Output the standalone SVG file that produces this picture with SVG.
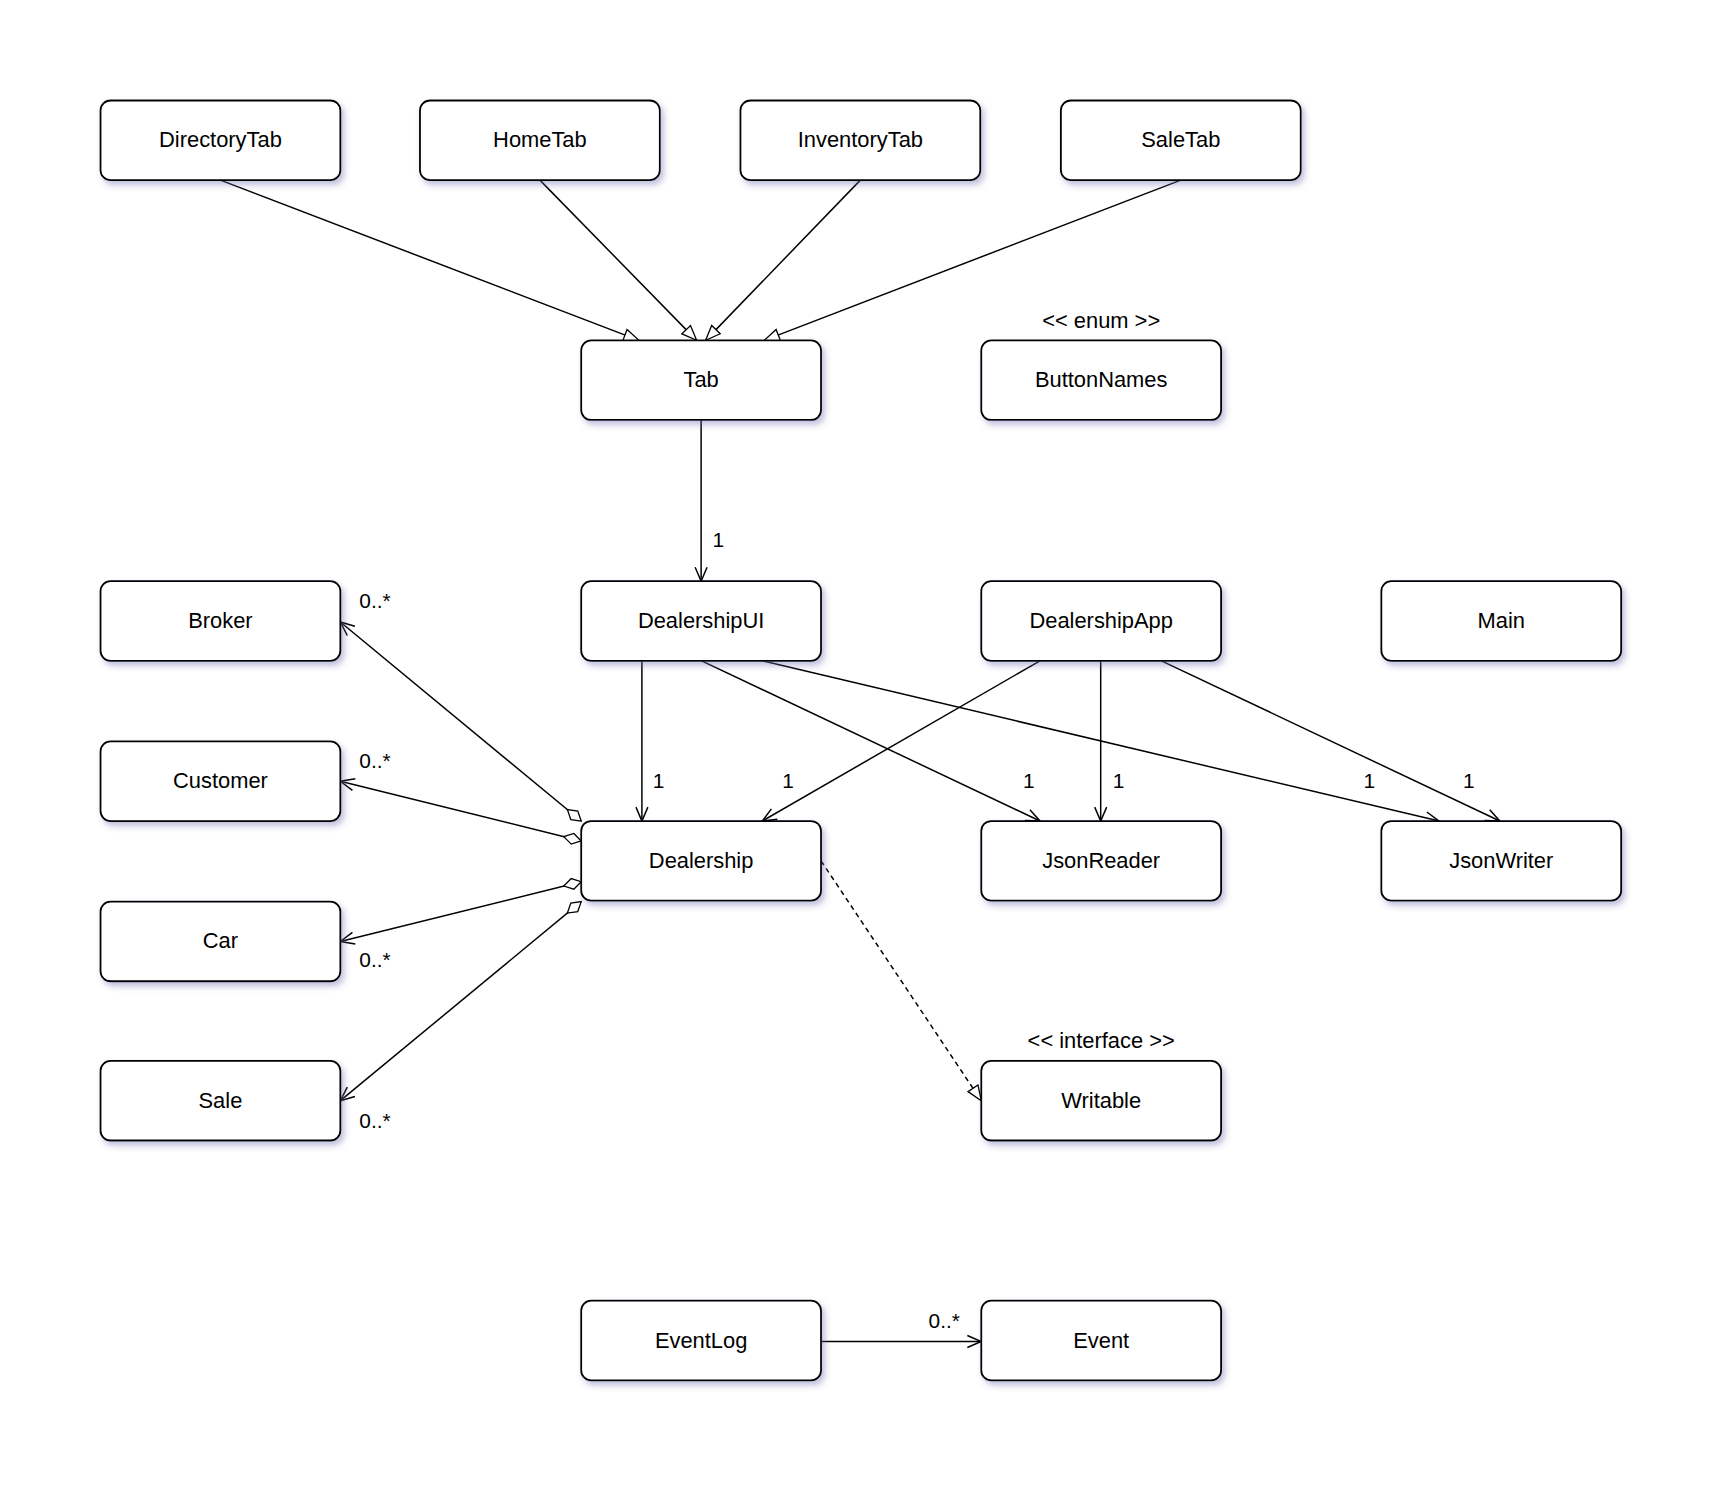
<svg xmlns="http://www.w3.org/2000/svg" width="1734" height="1494" viewBox="0 0 1734 1494">
<style>
.n rect{fill:#fff;stroke:#000;stroke-width:1.8;filter:url(#sh)}
text{font-family:"Liberation Sans",Arial,sans-serif;font-size:22px;fill:#000;text-anchor:middle}
.e line{stroke:#000;stroke-width:1.5;fill:none}
.l{font-size:21px;text-anchor:start}
</style>
<defs>
<filter id="sh" x="-20%" y="-20%" width="150%" height="160%"><feDropShadow dx="3" dy="4" stdDeviation="3" flood-color="#7070b0" flood-opacity="0.45"/></filter>
<marker id="tri" markerWidth="18" markerHeight="14" refX="16" refY="7" orient="auto" markerUnits="userSpaceOnUse"><path d="M1,1 L16,7 L1,13 Z" fill="#fff" stroke="#000" stroke-width="1.3"/></marker>
<marker id="open" markerWidth="18" markerHeight="16" refX="16" refY="8" orient="auto" markerUnits="userSpaceOnUse"><path d="M2,2 L16,8 L2,14" fill="none" stroke="#000" stroke-width="1.5"/></marker>
<marker id="dia" markerWidth="22" markerHeight="14" refX="1" refY="7" orient="auto" markerUnits="userSpaceOnUse"><path d="M1,7 L10,1.5 L19,7 L10,12.5 Z" fill="#fff" stroke="#000" stroke-width="1.3"/></marker>
</defs>
<rect width="1734" height="1494" fill="#fff"/>
<g transform="scale(0.9952)">
<g class="e">
<line x1="221.5" y1="181" x2="642" y2="342" marker-end="url(#tri)"/>
<line x1="542.5" y1="181" x2="700" y2="342" marker-end="url(#tri)"/>
<line x1="864.5" y1="181" x2="709" y2="342" marker-end="url(#tri)"/>
<line x1="1186.5" y1="181" x2="768" y2="342" marker-end="url(#tri)"/>
<line x1="704.5" y1="422" x2="704.5" y2="584" marker-end="url(#open)"/>
<line x1="645" y1="664" x2="645" y2="825" marker-end="url(#open)"/>
<line x1="705" y1="664" x2="1045" y2="825" marker-end="url(#open)"/>
<line x1="766" y1="664" x2="1446" y2="825" marker-end="url(#open)"/>
<line x1="1045" y1="664" x2="766" y2="825" marker-end="url(#open)"/>
<line x1="1106" y1="664" x2="1106" y2="825" marker-end="url(#open)"/>
<line x1="1167" y1="664" x2="1507" y2="825" marker-end="url(#open)"/>
<line x1="584" y1="825" x2="342" y2="625" marker-start="url(#dia)" marker-end="url(#open)"/>
<line x1="584" y1="845" x2="342" y2="785" marker-start="url(#dia)" marker-end="url(#open)"/>
<line x1="584" y1="886" x2="342" y2="946" marker-start="url(#dia)" marker-end="url(#open)"/>
<line x1="584" y1="906" x2="342" y2="1106" marker-start="url(#dia)" marker-end="url(#open)"/>
<line x1="825" y1="865" x2="986" y2="1106" stroke-dasharray="5,4" marker-end="url(#tri)"/>
<line x1="825" y1="1348" x2="986" y2="1348" marker-end="url(#open)"/>
</g>
<g id="labels">
<text class="l" x="716" y="550">1</text>
<text class="l" x="656" y="792">1</text>
<text class="l" x="786" y="792">1</text>
<text class="l" x="1028" y="792">1</text>
<text class="l" x="1118" y="792">1</text>
<text class="l" x="1370" y="792">1</text>
<text class="l" x="1470" y="792">1</text>
<text class="l" x="361" y="611">0..*</text>
<text class="l" x="361" y="772">0..*</text>
<text class="l" x="361" y="972">0..*</text>
<text class="l" x="361" y="1133">0..*</text>
<text class="l" x="933" y="1334">0..*</text>
<text x="1106.5" y="330">&lt;&lt; enum &gt;&gt;</text>
<text x="1106.5" y="1053">&lt;&lt; interface &gt;&gt;</text>
</g>
<g id="DirectoryTab" class="n"><rect x="101" y="101" width="241" height="80" rx="10"/><text x="221.5" y="148">DirectoryTab</text></g>
<g id="HomeTab" class="n"><rect x="422" y="101" width="241" height="80" rx="10"/><text x="542.5" y="148">HomeTab</text></g>
<g id="InventoryTab" class="n"><rect x="744" y="101" width="241" height="80" rx="10"/><text x="864.5" y="148">InventoryTab</text></g>
<g id="SaleTab" class="n"><rect x="1066" y="101" width="241" height="80" rx="10"/><text x="1186.5" y="148">SaleTab</text></g>
<g id="Tab" class="n"><rect x="584" y="342" width="241" height="80" rx="10"/><text x="704.5" y="389">Tab</text></g>
<g id="ButtonNames" class="n"><rect x="986" y="342" width="241" height="80" rx="10"/><text x="1106.5" y="389">ButtonNames</text></g>
<g id="Broker" class="n"><rect x="101" y="584" width="241" height="80" rx="10"/><text x="221.5" y="631">Broker</text></g>
<g id="DealershipUI" class="n"><rect x="584" y="584" width="241" height="80" rx="10"/><text x="704.5" y="631">DealershipUI</text></g>
<g id="DealershipApp" class="n"><rect x="986" y="584" width="241" height="80" rx="10"/><text x="1106.5" y="631">DealershipApp</text></g>
<g id="Main" class="n"><rect x="1388" y="584" width="241" height="80" rx="10"/><text x="1508.5" y="631">Main</text></g>
<g id="Customer" class="n"><rect x="101" y="745" width="241" height="80" rx="10"/><text x="221.5" y="792">Customer</text></g>
<g id="Dealership" class="n"><rect x="584" y="825" width="241" height="80" rx="10"/><text x="704.5" y="872">Dealership</text></g>
<g id="JsonReader" class="n"><rect x="986" y="825" width="241" height="80" rx="10"/><text x="1106.5" y="872">JsonReader</text></g>
<g id="JsonWriter" class="n"><rect x="1388" y="825" width="241" height="80" rx="10"/><text x="1508.5" y="872">JsonWriter</text></g>
<g id="Car" class="n"><rect x="101" y="906" width="241" height="80" rx="10"/><text x="221.5" y="953">Car</text></g>
<g id="Sale" class="n"><rect x="101" y="1066" width="241" height="80" rx="10"/><text x="221.5" y="1113">Sale</text></g>
<g id="Writable" class="n"><rect x="986" y="1066" width="241" height="80" rx="10"/><text x="1106.5" y="1113">Writable</text></g>
<g id="EventLog" class="n"><rect x="584" y="1307" width="241" height="80" rx="10"/><text x="704.5" y="1354">EventLog</text></g>
<g id="Event" class="n"><rect x="986" y="1307" width="241" height="80" rx="10"/><text x="1106.5" y="1354">Event</text></g>
</g>
</svg>
